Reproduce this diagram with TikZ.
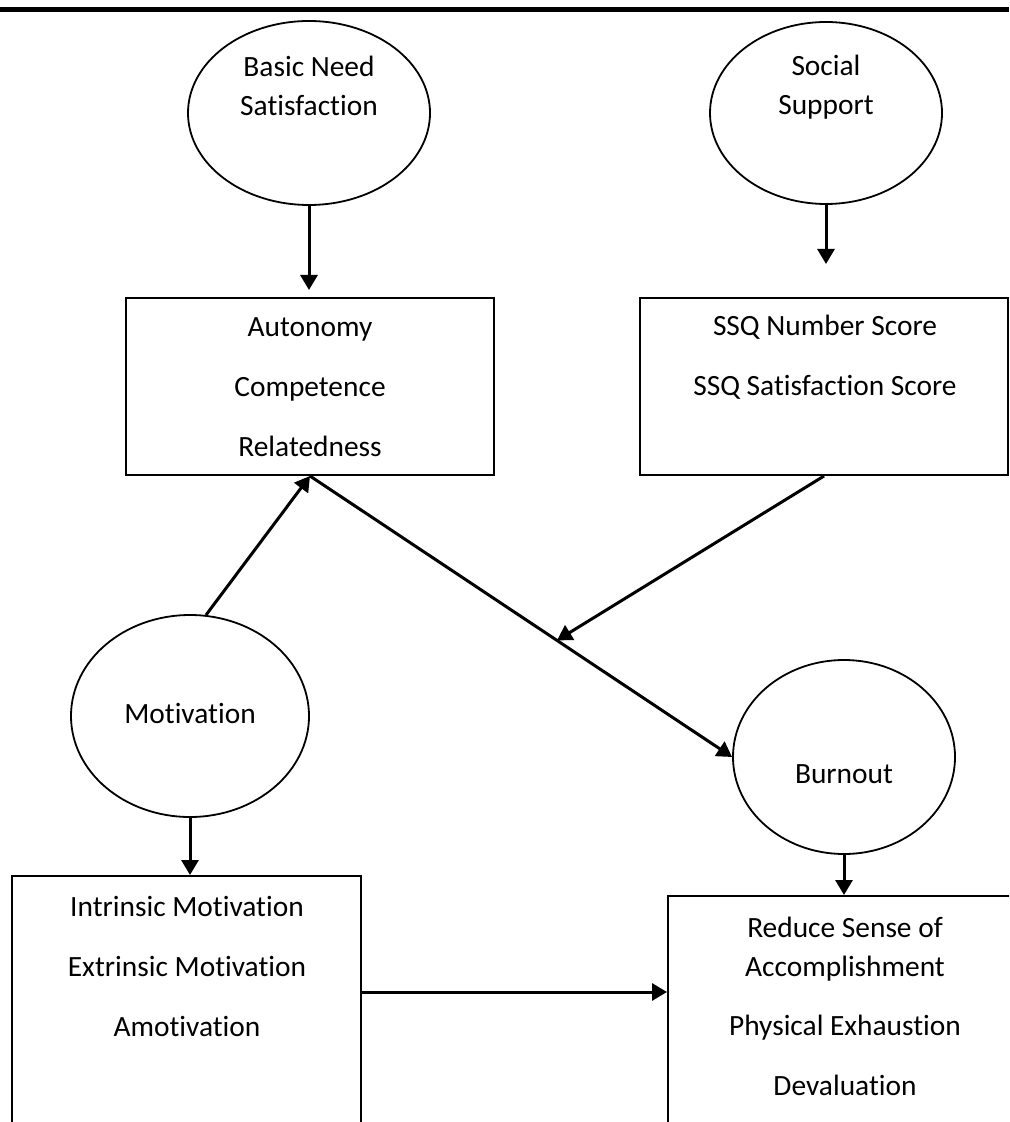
\documentclass[tikz,border=0pt]{standalone}
\usepackage{fontspec}
\setmainfont{Carlito}[Ligatures=NoCommon]
\usetikzlibrary{arrows.meta,calc,shapes.geometric}

\begin{document}
\begin{tikzpicture}[x=0.5pt,y=-0.5pt,
  latent/.style={draw, ellipse, line width=0.9pt, inner sep=0pt},
  box/.style={draw, rectangle, line width=1pt, inner sep=0pt},
  txt/.style={align=center, inner sep=0pt, font=\fontsize{14.7}{19.5}\selectfont},
  link/.style={-{Triangle[length=7.5pt,width=8.5pt]}, line width=1.5pt}]
\useasboundingbox (0,0) rectangle (1009,1122);
\clip (0,0) rectangle (1009,1122);

\draw [line width=2.5pt] (0,10) -- (1009,10);

\node [latent, minimum width=121pt, minimum height=92pt] (need) at (309,113) {};
\node [latent, minimum width=116pt, minimum height=91pt] (support) at (826,113) {};
\node [latent, minimum width=119pt, minimum height=101pt] (motiv) at (190,716) {};
\node [latent, minimum width=111pt, minimum height=97pt] (burn) at (844,757) {};

\node [txt] (need-t) at (309,86) {Basic Need\\Satisfaction};
\node [txt] (support-t) at (826,87) {Social\\Support};
\node [txt] (motiv-t) at (190,713) {Motivation};
\node [txt] (burn-t) at (844,774) {Burnout};

\node [box, minimum width=184pt, minimum height=88.5pt] (auto-box) at (310,386.5) {};
\node [box, minimum width=184pt, minimum height=88.5pt] (ssq-box) at (824,386.5) {};
\node [box, minimum width=174.5pt, minimum height=162pt] (mot-box) at (186.5,1038) {};
\node [box, minimum width=186pt, minimum height=152pt] (burn-box) at (854,1048) {};

\node [txt] (auto-t) at (310,387) {Autonomy\\[10.5pt]Competence\\[10.5pt]Relatedness};
\node [txt] (ssq-t) at (825,357) {SSQ Number Score\\[10.5pt]SSQ Satisfaction Score};
\node [txt] (mot-t) at (187,966) {Intrinsic Motivation\\[10.5pt]Extrinsic Motivation\\[10.5pt]Amotivation};
\node [txt] (burn-t2) at (845,1006) {Reduce Sense of\\Accomplishment\\[10pt]Physical Exhaustion\\[10.5pt]Devaluation};

\coordinate (meet) at ($(auto-box.south)!0.585!(burn.west)$);

\draw [link, shorten >=3.5pt] (need.south) -- (need.south |- auto-box.north);
\draw [link, shorten >=16.5pt] (support.south) -- (support.south |- ssq-box.north);
\draw [link] (motiv.81) -- (auto-box.south);
\draw [link] (auto-box.south) -- (burn.west);
\draw [link] (ssq-box.south) -- (meet);
\draw [link] (motiv.south) -- (motiv.south |- mot-box.north);
\draw [link] (burn.south) -- (burn.south |- burn-box.north);
\draw [link] ([yshift=-58.5pt]mot-box.north east) coordinate (mot-out) -- (mot-out -| burn-box.west);

\end{tikzpicture}
\end{document}
